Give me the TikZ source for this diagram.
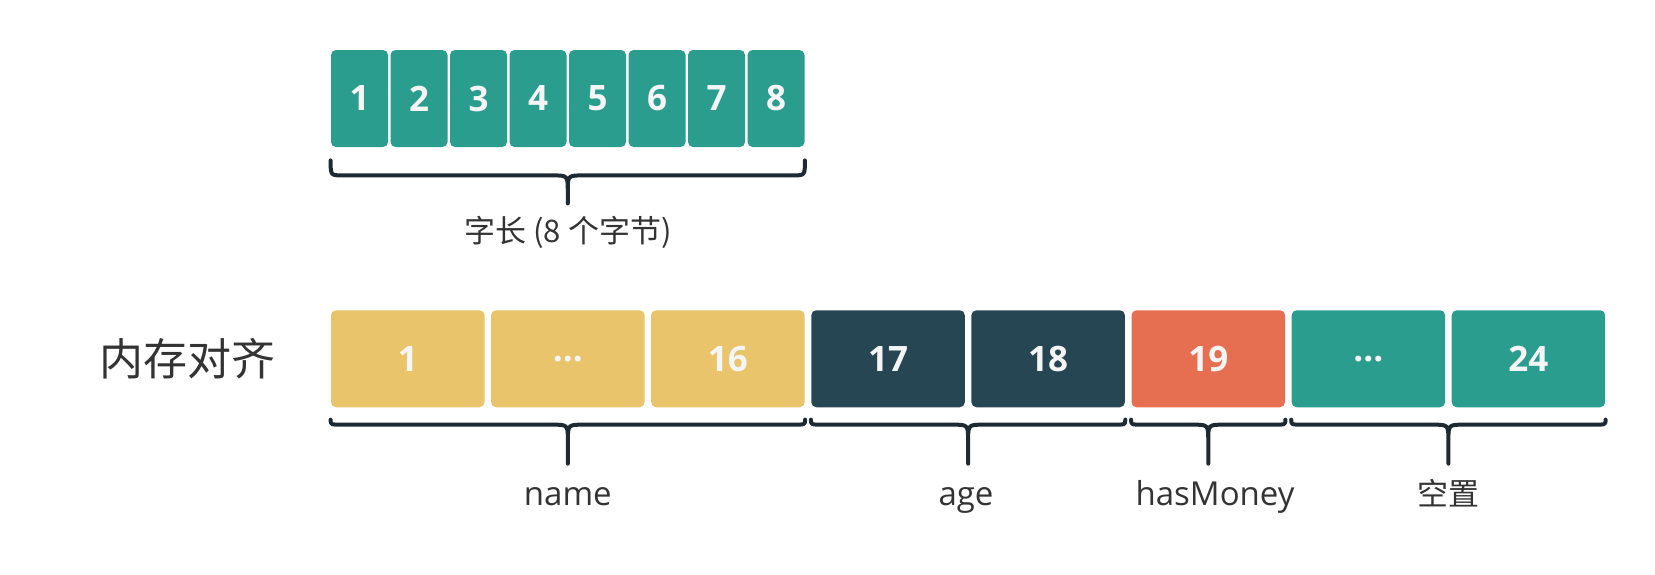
\documentclass[tikz,border=0pt]{standalone}
\usepackage{fontspec}
\setmainfont{Open Sans}
\newfontfamily\cjk{Noto Sans CJK SC}
\usetikzlibrary{calc,positioning}

\definecolor{tealcell}{HTML}{2A9D8F}
\definecolor{sandcell}{HTML}{E9C46A}
\definecolor{navycell}{HTML}{264653}
\definecolor{coralcell}{HTML}{E76F51}
\definecolor{bracecol}{HTML}{1E2A33}
\definecolor{labelcol}{HTML}{333333}

% brace under cells #1..#2: end drop #3, arm drop #4, tip drop #5
\newcommand{\fieldbrace}[5]{%
  \draw[bracepath] let \p1=(#1.south west), \p2=(#2.south east), \n1={(\x1+\x2)/2} in
    (\x1,\y1-#3) .. controls (\x1,\y1-#4) .. (\x1+6pt,\y1-#4) -- (\n1-8pt,\y1-#4)
    .. controls (\n1,\y1-#4) .. (\n1,\y1-#4-8pt) -- (\n1,\y1-#5)
    (\n1,\y1-#4-8pt) .. controls (\n1,\y1-#4) .. (\n1+8pt,\y1-#4)
    -- (\x2-6pt,\y1-#4) .. controls (\x2,\y1-#4) .. (\x2,\y1-#3);}

\begin{document}
\begin{tikzpicture}[x=0.5pt,y=-0.5pt,
    cell/.style={rounded corners=2.5pt,minimum height=48.5pt,inner sep=0pt,
      text=white!96!black,font=\fontsize{17.5}{20}\selectfont\bfseries},
    byte/.style={cell,fill=tealcell,minimum width=28.5pt},
    slot/.style={cell,minimum width=76.75pt},
    bracepath/.style={draw=bracecol,line width=2pt,line cap=round,line join=round},
    field/.style={anchor=base,text=labelcol,font=\fontsize{16.5}{20}\selectfont},
    cjkfield/.style={field,font=\fontsize{15.5}{20}\selectfont\cjk}]
    \useasboundingbox (0,0) rectangle (1655,574);

    % one word = 8 bytes
    \node[byte] (w1) at (359.5,98.5) {1};
    \node[byte] (w2) at (419,98.5) {2};
    \node[byte] (w3) at (478.5,98.5) {3};
    \node[byte] (w4) at (538,98.5) {4};
    \node[byte] (w5) at (597.5,98.5) {5};
    \node[byte] (w6) at (657,98.5) {6};
    \node[byte] (w7) at (716.5,98.5) {7};
    \node[byte] (w8) at (776,98.5) {8};
    \fieldbrace{w1}{w8}{6.5pt}{14pt}{28pt}
    \node[cjkfield] (wordlbl) at (568,242) {字长 (8 个字节)};

    % struct layout
    \node[anchor=base,text=labelcol,font=\fontsize{22}{26}\selectfont\cjk] (title) at (187,375) {内存对齐};
    \node[slot,fill=sandcell] (m1) at (407.75,358.75) {1};
    \node[slot,fill=sandcell] (m2) at (567.85,358.75) {...};
    \node[slot,fill=sandcell] (m3) at (727.95,358.75) {16};
    \node[slot,fill=navycell] (m4) at (888.05,358.75) {17};
    \node[slot,fill=navycell] (m5) at (1048.15,358.75) {18};
    \node[slot,fill=coralcell] (m6) at (1208.25,358.75) {19};
    \node[slot,fill=tealcell] (m7) at (1368.35,358.75) {...};
    \node[slot,fill=tealcell] (m8) at (1528.45,358.75) {24};

    \fieldbrace{m1}{m3}{6pt}{8.5pt}{28pt}
    \fieldbrace{m4}{m5}{6pt}{8.5pt}{28pt}
    \fieldbrace{m6}{m6}{6pt}{8.5pt}{28pt}
    \fieldbrace{m7}{m8}{6pt}{8.5pt}{28pt}

    \node[field] (namelbl) at (567.85,505) {name};
    \node[field] (agelbl) at (966,505) {age};
    \node[field] (moneylbl) at (1215,505) {hasMoney};
    \node[cjkfield] (padlbl) at (1448.4,505) {空置};
\end{tikzpicture}
\end{document}
